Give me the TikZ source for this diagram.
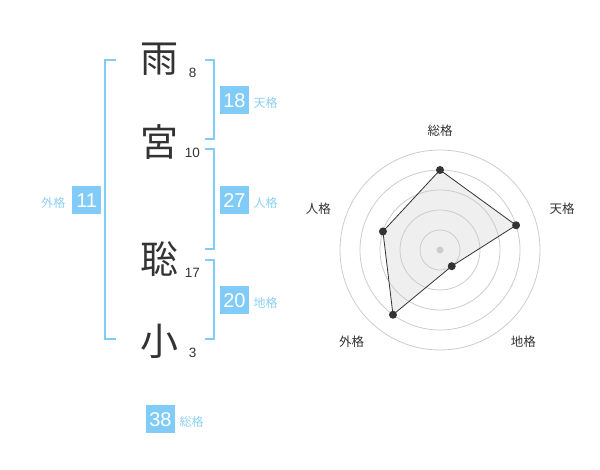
\documentclass[tikz,border=0pt]{standalone}
\usepackage{fontspec}
\setmainfont{Liberation Sans}
\newfontfamily\cjk{Noto Sans CJK JP}
\definecolor{brk}{HTML}{80CBF7}
\definecolor{lbl}{HTML}{8DD0F5}
\definecolor{ink}{HTML}{333333}
\definecolor{polyfill}{HTML}{EFEFEF}
\begin{document}
\begin{tikzpicture}[x=1pt,y=-1pt,
  bigchar/.style={font=\cjk\fontsize{38}{40}\selectfont, text=ink, inner sep=0pt},
  strokes/.style={font=\fontsize{13.5}{14}\selectfont, text=ink, inner sep=0pt},
  numbox/.style={fill=brk, text=white, minimum width=29pt, minimum height=28pt, inner sep=0pt, font=\fontsize{20}{21}\selectfont},
  kaku/.style={font=\cjk\fontsize{12}{13}\selectfont, text=lbl, inner sep=0pt},
  bracket/.style={draw=brk, line width=2pt},
  ring/.style={draw=black!20, line width=0.8pt},
  axislbl/.style={font=\cjk\fontsize{12.5}{13}\selectfont, text=ink, inner sep=0pt},
  dot/.style={circle, fill=ink, inner sep=0pt, minimum size=8pt}
]
\useasboundingbox (0,0) rectangle (600,470);
% characters
\node[bigchar] (c1) at (159,59) {雨};
\node[bigchar] (c2) at (159,142) {宮};
\node[bigchar] (c3) at (159,259) {聡};
\node[bigchar] (c4) at (159,341) {小};
\node[strokes] (s1) at (192.7,72.7) {8};
\node[strokes] (s2) at (192.3,152.7) {10};
\node[strokes] (s3) at (192.3,272.7) {17};
\node[strokes] (s4) at (192.7,353.3) {3};
% brackets
\draw[bracket] (116,60) -- (105,60) -- (105,339.5) -- (116,339.5);
\draw[bracket] (205,60) -- (214.3,60) -- (214.3,139.3) -- (205,139.3);
\draw[bracket] (205,149.3) -- (214.3,149.3) -- (214.3,249.3) -- (205,249.3);
\draw[bracket] (205,260) -- (214.3,260) -- (214.3,339.3) -- (205,339.3);
% boxes
\node[numbox] (ten) at (234.5,100.2) {18};
\node[kaku, anchor=west] (tenl) at (253.5,103) {天格};
\node[numbox] (jin) at (234.5,200.2) {27};
\node[kaku, anchor=west] (jinl) at (253.5,203) {人格};
\node[numbox] (chi) at (234.5,300.2) {20};
\node[kaku, anchor=west] (chil) at (253.5,303) {地格};
\node[numbox] (gai) at (86.7,200.2) {11};
\node[kaku, anchor=east] (gail) at (65.5,203) {外格};
\node[numbox] (sou) at (160.5,419.2) {38};
\node[kaku, anchor=west] (soul) at (179.5,422) {総格};
% radar
\coordinate (O) at (440,250);
\path (O) ++(0,-80) coordinate (pS);
\path (O) ++(-18:80) coordinate (pT);
\path (O) ++(54:20) coordinate (pC);
\path (O) ++(126:80) coordinate (pG);
\path (O) ++(-162:60) coordinate (pJ);
\fill[polyfill] (pS) -- (pT) -- (pC) -- (pG) -- (pJ) -- cycle;
\foreach \r in {20,40,60,80,100} \draw[ring] (O) circle[radius=\r];
\fill[black!20] (O) circle[radius=3.5];
\draw[draw=ink, line width=0.8pt] (pS) -- (pT) -- (pC) -- (pG) -- (pJ) -- cycle;
\foreach \p in {pS,pT,pC,pG,pJ} \node[dot] (d\p) at (\p) {};
\node[axislbl] (lS) at (440,130.7) {総格};
\node[axislbl] (lT) at (562,209) {天格};
\node[axislbl] (lC) at (523.3,341.7) {地格};
\node[axislbl] (lG) at (351.7,341.7) {外格};
\node[axislbl] (lJ) at (318.3,209) {人格};
\end{tikzpicture}
\end{document}
